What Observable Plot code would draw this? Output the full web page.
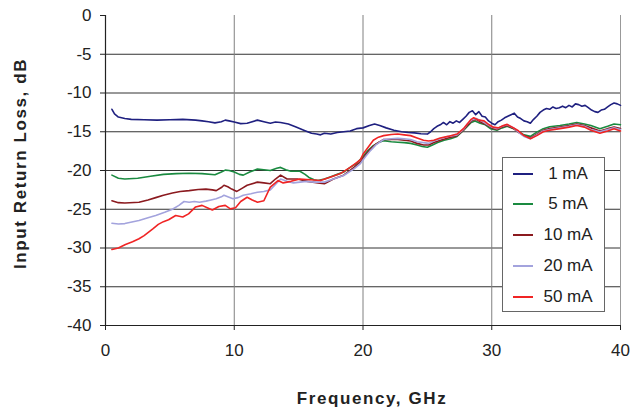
<!DOCTYPE html>
<html>
<head>
<meta charset="utf-8">
<script src="https://cdn.jsdelivr.net/npm/d3@7"></script>
<script src="https://cdn.jsdelivr.net/npm/@observablehq/plot@0.6"></script>
<style>
  body { margin: 0; background: #fff; }
  #wrap { position: relative; width: 634px; height: 412px; font-family: "Liberation Sans", Arial, sans-serif; }
  svg [aria-label="x-axis label"], svg [aria-label="y-axis label"] { font-weight: bold; letter-spacing: 1.6px; font-size: 17px; }
  #legend { position: absolute; left: 502px; top: 157px; width: 101px; height: 153px; border: 1px solid #666; background: #fff; }
  .row { position: absolute; left: 0; width: 101px; height: 20px; }
  .sw { position: absolute; left: 10px; top: 9px; width: 20px; height: 2px; }
  .lb { position: absolute; left: 30px; width: 70px; top: 0; line-height: 20px; text-align: center; font-size: 17px; color: #222; }
</style>
</head>
<body>
<div id="wrap"></div>
<script>
const seriesNames = ["1 mA", "5 mA", "10 mA", "20 mA", "50 mA"];
const seriesColors = ["#1f2080", "#1a8a40", "#8b1a1f", "#a3a3dd", "#f02424"];
const xTicks = [0, 10, 20, 30, 40];
const yTicks = [-40, -35, -30, -25, -20, -15, -10, -5, 0];

const freq1 = [0.5,0.7,1.0,1.5,2.0,3.0,4.0,5.0,6.0,7.0,7.5,8.0,8.5,9.0,9.3,9.6,10.0,10.5,11.0,11.8,12.3,12.8,13.2,13.6,14.2,14.8,15.4,16.0,16.4,16.7,17.0,17.5,18.0,18.5,19.0,19.5,20.0,20.5,20.9,21.3,21.8,22.4,23.0,23.5,24.0,24.5,25.0,25.25,25.5,25.75,26.0,26.25,26.5,26.75,27.0,27.25,27.5,27.75,28.0,28.25,28.5,28.75,29.0,29.25,29.5,29.75,30.0,30.25,30.5,30.75,31.0,31.25,31.5,31.75,32.0,32.25,32.5,32.75,33.0,33.25,33.5,33.75,34.0,34.25,34.5,34.75,35.0,35.25,35.5,35.75,36.0,36.25,36.5,36.75,37.0,37.25,37.5,37.75,38.0,38.25,38.5,38.75,39.0,39.25,39.5,39.75,40.0];
const db1 = [-12.1,-12.7,-13.1,-13.3,-13.4,-13.45,-13.5,-13.45,-13.4,-13.5,-13.6,-13.7,-13.85,-13.7,-13.5,-13.6,-13.75,-13.95,-13.9,-13.5,-13.7,-13.9,-13.75,-13.8,-14.0,-14.4,-14.8,-15.2,-15.3,-15.4,-15.2,-15.3,-15.1,-15.0,-14.9,-14.6,-14.5,-14.2,-14.0,-14.2,-14.5,-14.8,-15.0,-15.1,-15.15,-15.25,-15.3,-15.0,-14.6,-14.3,-14.1,-13.8,-14.1,-13.7,-13.9,-13.6,-13.8,-13.4,-13.0,-12.5,-12.3,-12.8,-12.4,-13.0,-13.1,-13.6,-13.9,-14.1,-13.7,-13.5,-13.2,-13.0,-12.8,-12.6,-13.1,-13.3,-13.6,-13.7,-13.9,-13.4,-13.0,-12.5,-12.2,-12.0,-12.1,-11.8,-12.0,-11.9,-11.7,-11.9,-11.6,-11.8,-11.4,-11.5,-11.7,-11.6,-11.9,-12.2,-12.4,-12.5,-12.2,-12.1,-11.8,-11.5,-11.3,-11.4,-11.6];

const freq5 = [0.5,1.0,1.5,2.5,3.5,4.5,5.5,6.5,7.5,8.5,9.0,9.3,9.6,10.0,10.4,10.7,11.2,11.8,12.3,12.8,13.3,13.6,14.0,14.4,15.1,15.5,15.8,16.2,16.5,17.0,17.5,18.0,18.5,19.0,19.5,20.0,20.4,20.8,21.2,21.6,22.2,22.7,23.2,23.7,24.2,24.6,25.0,25.4,25.8,26.3,26.8,27.3,27.7,28.1,28.4,28.7,29.1,29.5,29.9,30.4,30.8,31.2,31.7,32.1,32.5,33.0,33.5,34.0,34.5,35.3,36.0,36.6,37.2,37.7,38.4,39.0,39.5,40.0];
const db5 = [-20.6,-21.0,-21.1,-21.0,-20.75,-20.5,-20.4,-20.35,-20.4,-20.55,-20.2,-19.95,-20.0,-20.2,-20.5,-20.6,-20.2,-19.8,-19.9,-20.0,-19.7,-19.6,-19.9,-20.1,-20.1,-20.5,-20.9,-21.2,-21.3,-21.1,-20.8,-20.5,-20.2,-19.6,-19.1,-18.2,-17.4,-16.8,-16.4,-16.15,-16.3,-16.35,-16.4,-16.5,-16.7,-16.9,-17.0,-16.7,-16.4,-16.1,-15.9,-15.6,-15.0,-14.3,-13.8,-13.6,-13.9,-14.1,-14.6,-14.8,-14.5,-14.3,-14.6,-15.0,-15.4,-15.6,-15.05,-14.6,-14.35,-14.2,-14.0,-13.8,-14.0,-14.2,-14.6,-14.3,-14.0,-14.1];

const freq10 = [0.5,1.0,1.5,2.6,3.3,3.9,4.5,5.2,5.8,6.5,7.2,7.8,8.3,8.6,9.0,9.2,9.5,9.8,10.2,10.6,11.0,11.8,12.3,12.8,13.2,13.6,14.1,14.9,15.7,16.5,17.0,17.7,18.5,19.3,19.8,20.2,20.6,21.0,21.6,22.2,22.7,23.2,23.7,24.2,24.7,25.1,25.5,26.0,26.6,27.3,27.8,28.1,28.5,28.8,29.2,29.6,30.0,30.4,30.8,31.2,31.7,32.1,32.5,33.0,33.5,34.0,34.5,35.3,36.0,36.6,37.2,37.7,38.4,39.0,39.5,40.0];
const db10 = [-23.9,-24.15,-24.2,-24.1,-23.8,-23.5,-23.2,-22.9,-22.7,-22.6,-22.45,-22.4,-22.5,-22.6,-22.2,-21.9,-22.1,-22.4,-22.7,-22.3,-21.9,-21.5,-21.6,-21.7,-21.1,-20.6,-21.1,-21.1,-21.4,-21.6,-21.7,-21.1,-20.6,-19.6,-18.9,-18.0,-17.2,-16.6,-16.0,-16.0,-16.0,-16.1,-16.2,-16.5,-16.7,-16.7,-16.4,-16.1,-15.8,-15.5,-14.8,-14.2,-13.5,-13.4,-13.8,-14.1,-14.5,-14.7,-14.4,-14.2,-14.6,-15.1,-15.5,-15.8,-15.3,-14.8,-14.6,-14.4,-14.2,-14.0,-14.2,-14.5,-14.9,-14.6,-14.4,-14.6];

const freq20 = [0.5,1.0,1.5,2.6,3.3,3.9,4.6,5.2,5.7,6.1,6.5,6.9,7.3,7.8,8.2,8.6,9.0,9.2,9.5,9.9,10.3,10.7,11.3,11.8,12.3,12.8,13.2,13.6,14.1,14.6,15.1,15.6,16.2,17.0,17.7,18.5,19.3,19.8,20.2,20.6,21.0,21.6,22.2,22.7,23.2,23.7,24.2,24.7,25.1,25.5,26.0,26.6,27.3,27.8,28.1,28.5,28.8,29.2,29.6,30.0,30.4,30.8,31.2,31.7,32.1,32.5,33.0,33.5,34.0,34.5,35.3,36.0,36.6,37.2,37.7,38.4,39.0,39.5,40.0];
const db20 = [-26.8,-26.9,-26.85,-26.45,-26.1,-25.8,-25.4,-25.0,-24.5,-24.0,-24.1,-24.0,-24.1,-23.95,-23.8,-23.65,-23.4,-23.2,-23.4,-23.65,-23.5,-23.2,-23.0,-22.8,-22.7,-22.5,-21.8,-21.1,-21.4,-21.6,-21.5,-21.4,-21.5,-21.5,-21.1,-20.65,-19.8,-19.1,-18.2,-17.4,-16.7,-16.0,-15.9,-15.85,-15.9,-16.0,-16.3,-16.4,-16.5,-16.2,-15.9,-15.6,-15.4,-14.7,-14.0,-13.4,-13.3,-13.6,-14.0,-14.4,-14.6,-14.3,-14.1,-14.5,-15.1,-15.6,-15.9,-15.4,-14.9,-14.7,-14.5,-14.3,-14.1,-14.3,-14.7,-15.0,-14.7,-14.5,-14.7];

const freq50 = [0.5,1.0,1.55,2.1,2.6,3.0,3.35,3.7,4.1,4.5,4.9,5.45,6.0,6.45,7.0,7.5,7.9,8.3,8.8,9.3,9.7,10.1,10.5,11.0,11.4,11.8,12.3,12.8,13.4,13.8,14.4,15.1,15.9,16.7,17.5,18.25,19.0,19.4,19.8,20.0,20.4,20.8,21.2,21.6,22.2,22.7,23.2,23.7,24.2,24.7,25.1,25.5,26.0,26.6,27.3,27.8,28.1,28.4,28.6,29.0,29.4,29.8,30.1,30.5,30.9,31.2,31.7,32.0,32.5,33.0,33.5,34.0,34.5,35.3,36.0,36.6,37.2,37.7,38.4,39.0,39.5,40.0];
const db50 = [-30.2,-30.0,-29.55,-29.2,-28.8,-28.4,-27.95,-27.5,-26.95,-26.6,-26.35,-25.8,-26.0,-25.6,-24.7,-24.5,-24.8,-25.1,-24.65,-24.5,-24.95,-24.8,-24.0,-23.45,-23.8,-24.1,-23.9,-22.15,-21.3,-21.6,-21.4,-21.1,-21.2,-21.3,-20.85,-20.4,-19.6,-19.1,-18.6,-17.9,-17.0,-16.1,-15.7,-15.5,-15.35,-15.3,-15.4,-15.5,-15.8,-16.1,-16.2,-16.1,-15.8,-15.6,-15.3,-14.6,-14.0,-13.4,-13.2,-13.5,-13.6,-14.1,-14.4,-14.5,-14.2,-14.05,-14.5,-14.8,-15.5,-15.9,-15.5,-15.0,-14.8,-14.6,-14.4,-14.2,-14.4,-14.8,-15.2,-14.9,-14.6,-14.9];

const freqs = [freq1, freq5, freq10, freq20, freq50];
const dbs = [db1, db5, db10, db20, db50];
const data = seriesNames.flatMap((s, i) => freqs[i].map((f, j) => ({s, f, db: dbs[i][j]})));

const gridY = yTicks.filter(v => v > -40 && v < 0);
const gridX = xTicks.filter(v => v > 0 && v < 40);

const chart = Plot.plot({
  width: 634,
  height: 412,
  marginLeft: 105,
  marginRight: 14,
  marginTop: 15,
  marginBottom: 87,
  style: { fontFamily: '"Liberation Sans", Arial, sans-serif', fontSize: "17px", color: "#222", background: "#fff" },
  x: { domain: [0, 40] },
  y: { domain: [-40, 0] },
  color: { domain: seriesNames, range: seriesColors },
  marks: [
    Plot.ruleY(gridY, { stroke: "#333", strokeWidth: 1 }),
    Plot.ruleX(gridX, { stroke: "#808080", strokeWidth: 1 }),
    Plot.ruleX([40], { stroke: "#999", strokeWidth: 1 }),
    Plot.line(data, { x: "f", y: "db", z: "s", stroke: "s", strokeWidth: 1.6 }),
    Plot.ruleX([0], { stroke: "#222", strokeWidth: 1.2 }),
    Plot.ruleY([-40], { stroke: "#222", strokeWidth: 1.2 }),
    Plot.axisX({ ticks: xTicks, tickSize: 5, tickPadding: 13, tickFormat: d => String(d),
      label: "Frequency, GHz", labelArrow: "none", labelAnchor: "center", labelOffset: 78, stroke: "#222" }),
    Plot.axisY({ ticks: yTicks, tickSize: 5, tickPadding: 9, tickFormat: d => String(d),
      label: "Input Return Loss, dB", labelArrow: "none", labelAnchor: "center", labelOffset: 92, stroke: "#222" })
  ]
});

// nudge the axis titles to where the reference places them
const shiftLabel = (name, dx, dy) => {
  const g = chart.querySelector(`[aria-label="${name}"]`);
  if (g) g.setAttribute("transform", `translate(${dx},${dy}) ` + (g.getAttribute("transform") || ""));
};
shiftLabel("x-axis label", 9, 0);
shiftLabel("y-axis label", 0, -7);

const wrap = document.getElementById("wrap");
wrap.appendChild(chart);

const legend = document.createElement("div");
legend.id = "legend";
seriesNames.forEach((s, i) => {
  const row = document.createElement("div");
  row.className = "row";
  row.style.top = (5.7 + i * 30.75) + "px";
  const sw = document.createElement("div");
  sw.className = "sw";
  sw.style.background = seriesColors[i];
  const lb = document.createElement("div");
  lb.className = "lb";
  lb.textContent = s;
  row.appendChild(sw);
  row.appendChild(lb);
  legend.appendChild(row);
});
wrap.appendChild(legend);
</script>
</body>
</html>
